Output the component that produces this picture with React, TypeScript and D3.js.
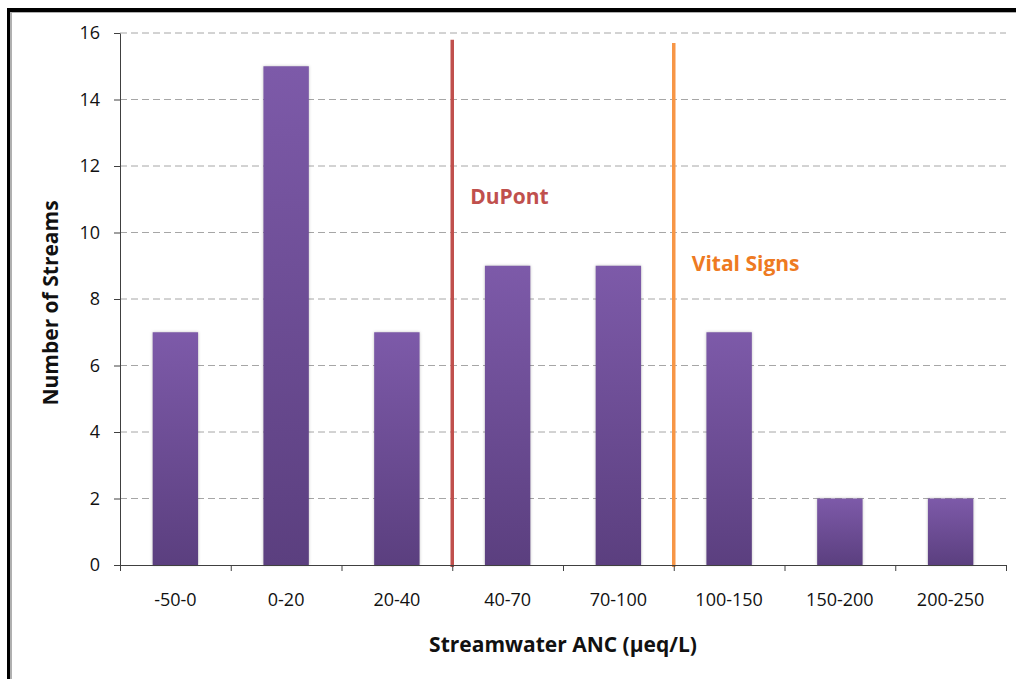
import React, { useEffect, useRef } from 'react';
import * as d3 from 'd3';

const categories = ['-50-0', '0-20', '20-40', '40-70', '70-100', '100-150', '150-200', '200-250'];
const counts = [7, 15, 7, 9, 9, 7, 2, 2];
const yTicks = [0, 2, 4, 6, 8, 10, 12, 14, 16];

// reference lines sit on category boundaries (index of boundary, top value)
const refLines = [
  { name: 'DuPont', boundary: 3, top: 15.8, labelValue: 10.85, color: '#c0504d', textColor: '#c0504d' },
  { name: 'Vital Signs', boundary: 5, top: 15.7, labelValue: 8.83, color: '#f79646', textColor: '#ee7a22' },
];

const FONT = '"Open Sans", Lato, sans-serif';

export default function App() {
  const svgRef = useRef<SVGSVGElement>(null);

  useEffect(() => {
    if (!svgRef.current) return;
    const svg = d3.select(svgRef.current);
    svg.selectAll('*').remove();

    const left = 120, right = 1006, top = 33, bottom = 565;

    // frame (only top and left edges visible)
    svg.append('rect').attr('x', 0).attr('y', 0).attr('width', 1016).attr('height', 679).attr('fill', '#fff');
    svg.append('rect').attr('x', 7).attr('y', 8).attr('width', 1009).attr('height', 4).attr('fill', '#000');
    svg.append('rect').attr('x', 10).attr('y', 12).attr('width', 1006).attr('height', 1).attr('fill', '#b0b0b0');
    svg.append('rect').attr('x', 7).attr('y', 8).attr('width', 3).attr('height', 671).attr('fill', '#000');
    svg.append('rect').attr('x', 10).attr('y', 12).attr('width', 2).attr('height', 667).attr('fill', '#b0b0b0');

    const defs = svg.append('defs');
    const grad = defs.append('linearGradient')
      .attr('id', 'barGrad')
      .attr('x1', 0).attr('y1', 0).attr('x2', 0).attr('y2', 1);
    grad.append('stop').attr('offset', '0%').attr('stop-color', '#7d5aa9');
    grad.append('stop').attr('offset', '100%').attr('stop-color', '#5b3f7f');

    const x = d3.scaleBand<string>()
      .domain(categories)
      .range([left, right])
      .paddingInner(0.59)
      .paddingOuter(0.295);

    const xb = d3.scaleLinear().domain([0, categories.length]).range([left, right]);

    const y = d3.scaleLinear().domain([0, 16]).range([bottom, top]);

    // grid
    svg.append('g')
      .selectAll('line')
      .data(yTicks.filter(t => t > 0))
      .enter()
      .append('line')
      .attr('x1', left)
      .attr('x2', right)
      .attr('y1', d => y(d))
      .attr('y2', d => y(d))
      .attr('stroke', '#a6a6a6')
      .attr('stroke-width', 1)
      .attr('stroke-dasharray', '7,4');

    // bars
    svg.append('g')
      .selectAll('rect')
      .data(counts)
      .enter()
      .append('rect')
      .attr('x', (d, i) => x(categories[i]) || 0)
      .attr('y', d => y(d))
      .attr('width', x.bandwidth())
      .attr('height', d => bottom - y(d))
      .attr('fill', 'url(#barGrad)')
      .style('filter', 'drop-shadow(0px 0px 1.5px rgba(0,0,0,0.25))');

    // reference lines
    refLines.forEach(r => {
      svg.append('line')
        .attr('x1', xb(r.boundary))
        .attr('x2', xb(r.boundary))
        .attr('y1', y(r.top))
        .attr('y2', bottom + 2)
        .attr('stroke', r.color)
        .attr('stroke-width', 3.5);
      svg.append('text')
        .attr('x', xb(r.boundary) + 18)
        .attr('y', y(r.labelValue))
        .style('font-family', FONT)
        .style('font-size', '21px')
        .style('font-weight', 'bold')
        .attr('fill', r.textColor)
        .text(r.name);
    });

    // y axis
    const yAxis = svg.append('g')
      .attr('transform', `translate(${left},0)`)
      .call(d3.axisLeft(y).tickValues(yTicks).tickSize(6).tickSizeOuter(0).tickPadding(14));
    yAxis.select('.domain').attr('stroke', '#404040');
    yAxis.selectAll('.tick line').attr('stroke', '#404040');
    yAxis.selectAll('text')
      .style('font-family', FONT)
      .style('font-size', '18px')
      .attr('fill', '#111');

    // x axis
    const xAxis = svg.append('g')
      .attr('transform', `translate(0,${bottom})`)
      .call(d3.axisBottom(xb).tickValues(d3.range(0, categories.length + 1)).tickSize(6).tickSizeOuter(0).tickFormat(() => ''));
    xAxis.select('.domain').attr('stroke', '#404040');
    xAxis.selectAll('.tick line').attr('stroke', '#404040');

    svg.append('g')
      .selectAll('text')
      .data(categories)
      .enter()
      .append('text')
      .attr('x', d => (x(d) || 0) + x.bandwidth() / 2)
      .attr('y', 606)
      .attr('text-anchor', 'middle')
      .style('font-family', FONT)
      .style('font-size', '18px')
      .attr('fill', '#111')
      .text(d => d);

    // titles
    svg.append('text')
      .attr('x', 563)
      .attr('y', 652)
      .attr('text-anchor', 'middle')
      .style('font-family', FONT)
      .style('font-size', '21px')
      .style('font-weight', 'bold')
      .attr('fill', '#111')
      .text('Streamwater ANC (\u03bceq/L)');

    svg.append('text')
      .attr('transform', 'rotate(-90)')
      .attr('x', -303)
      .attr('y', 58)
      .attr('text-anchor', 'middle')
      .style('font-family', FONT)
      .style('font-size', '21px')
      .style('font-weight', 'bold')
      .attr('fill', '#111')
      .text('Number of Streams');
  }, []);

  return (
    <svg
      ref={svgRef}
      width={1016}
      height={679}
      style={{ position: 'absolute', left: 0, top: 0, display: 'block' }}
    />
  );
}
